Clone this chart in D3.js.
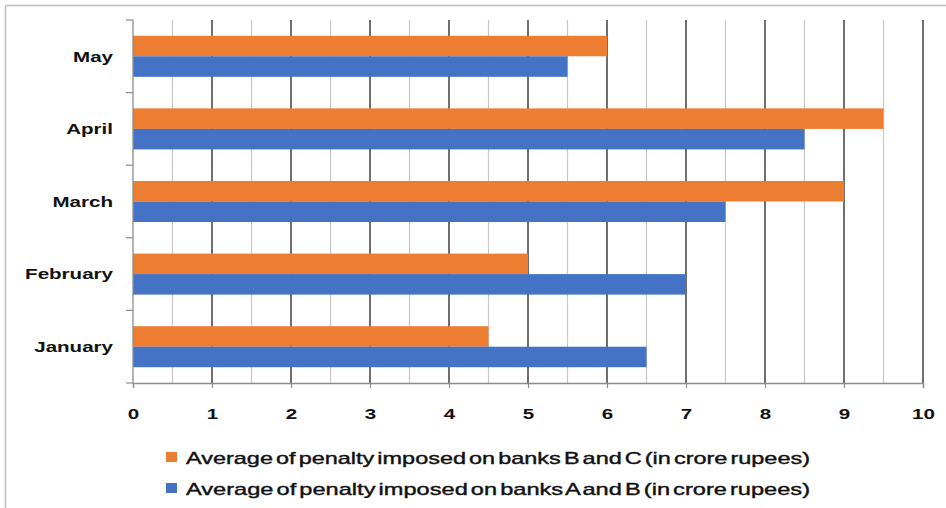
<!DOCTYPE html>
<html>
<head>
<meta charset="utf-8">
<script src="https://cdn.jsdelivr.net/npm/d3@7"></script>
<style>
  body { margin: 0; background: #fff; }
  svg { display: block; font-family: "Liberation Sans", Arial, sans-serif; }
</style>
</head>
<body>
<svg id="chart" width="946" height="508"></svg>
<script>
// data
let months = ['January', 'February', 'March', 'April', 'May']
let avgBC = [4.5, 5, 9, 9.5, 6]
let avgAB = [6.5, 7, 7.5, 8.5, 5.5]
let seriesNames = [
    'Average of penalty imposed on banks B and C (in crore rupees)',
    'Average of penalty imposed on banks A and B (in crore rupees)'
]
let seriesColors = ['#ed7d31', '#4472c4']
let xTicks = [0, 1, 2, 3, 4, 5, 6, 7, 8, 9, 10]

let svg = d3.select('#chart')
let margin = {left: 133, right: 23, top: 20, bottom: 125}
let width = 946, height = 508
let stretch = 'scale(1.37,1)' // the source picture is squeezed wide

// outer frame (only top & left visible in the crop)
svg.append('line').attr('x1', 5.5).attr('x2', 946).attr('y1', 5.5).attr('y2', 5.5)
    .attr('stroke', '#bdbdbd').attr('stroke-width', 1.5)
svg.append('line').attr('x1', 5.5).attr('x2', 5.5).attr('y1', 5.5).attr('y2', 508)
    .attr('stroke', '#bdbdbd').attr('stroke-width', 1.5)

let x = d3.scaleLinear().domain([0, 10]).range([margin.left, width - margin.right])
let y = d3.scaleBand()
    .domain(months.slice().reverse())
    .range([margin.top, height - margin.bottom])
    .paddingInner(0.435).paddingOuter(0.2175)
let sub = d3.scaleBand().domain([0, 1]).range([0, y.bandwidth()])

// gridlines
let g = svg.append('g')
d3.range(0.5, 10.01, 0.5).forEach(v => {
    let major = Number.isInteger(v)
    g.append('line')
        .attr('x1', x(v)).attr('x2', x(v))
        .attr('y1', margin.top).attr('y2', height - margin.bottom)
        .attr('stroke', major ? '#222' : '#c8c8c8')
        .attr('stroke-width', major ? 1.3 : 1.2)
})

// bars
let rows = months.map((m, i) => ({month: m, vals: [avgBC[i], avgAB[i]]}))
let grp = svg.selectAll('.row').data(rows).enter().append('g')
    .attr('transform', d => `translate(0,${y(d.month)})`)
grp.selectAll('rect').data(d => d.vals).enter().append('rect')
    .attr('x', x(0))
    .attr('y', (d, i) => sub(i))
    .attr('width', d => x(d) - x(0))
    .attr('height', sub.bandwidth())
    .attr('fill', (d, i) => seriesColors[i])

// axes
let yAxisG = svg.append('g')
yAxisG.append('line').attr('x1', x(0)).attr('x2', x(0))
    .attr('y1', margin.top).attr('y2', height - margin.bottom)
    .attr('stroke', '#8c8c8c').attr('stroke-width', 1.3)
d3.range(0, months.length + 1).forEach(k => {
    let yy = margin.top + k * (height - margin.bottom - margin.top) / months.length
    yAxisG.append('line').attr('x1', x(0) - 7).attr('x2', x(0))
        .attr('y1', yy).attr('y2', yy).attr('stroke', '#8c8c8c').attr('stroke-width', 1.2)
})
yAxisG.selectAll('g.lab').data(months).enter().append('g')
    .attr('class', 'lab')
    .attr('transform', d => `translate(113,${y(d) + y.bandwidth() / 2})`)
    .append('text')
    .attr('transform', stretch)
    .attr('dy', '0.35em')
    .attr('text-anchor', 'end')
    .attr('font-size', 15).attr('font-weight', 'bold').attr('fill', '#111')
    .text(d => d)

let xAxis = d3.axisBottom(x).tickValues(xTicks).tickSize(5).tickPadding(20).tickFormat(d3.format('d'))
let xAxisG = svg.append('g')
    .attr('transform', `translate(0,${height - margin.bottom})`)
    .call(xAxis)
xAxisG.select('.domain').attr('stroke', '#8c8c8c').attr('stroke-width', 1.3)
xAxisG.selectAll('.tick line').attr('stroke', '#8c8c8c').attr('stroke-width', 1.2)
xAxisG.selectAll('text')
    .attr('transform', stretch)
    .attr('font-size', 15).attr('font-weight', 'bold').attr('fill', '#111')
    .attr('font-family', '"Liberation Sans", Arial, sans-serif')

// legend
let leg = svg.append('g')
seriesNames.forEach((name, i) => {
    let ly = 458 + i * 31
    leg.append('rect').attr('x', 166).attr('y', ly - 6).attr('width', 11).attr('height', 10)
        .attr('fill', seriesColors[i])
    leg.append('text').attr('x', 186).attr('y', ly).attr('dy', '0.38em')
        .attr('font-size', 17).attr('fill', '#111')
        .attr('word-spacing', '-2.5')
        .attr('textLength', 624).attr('lengthAdjust', 'spacingAndGlyphs')
        .attr('stroke', '#111').attr('stroke-width', 0.4)
        .text(name)
})
</script>
</body>
</html>
